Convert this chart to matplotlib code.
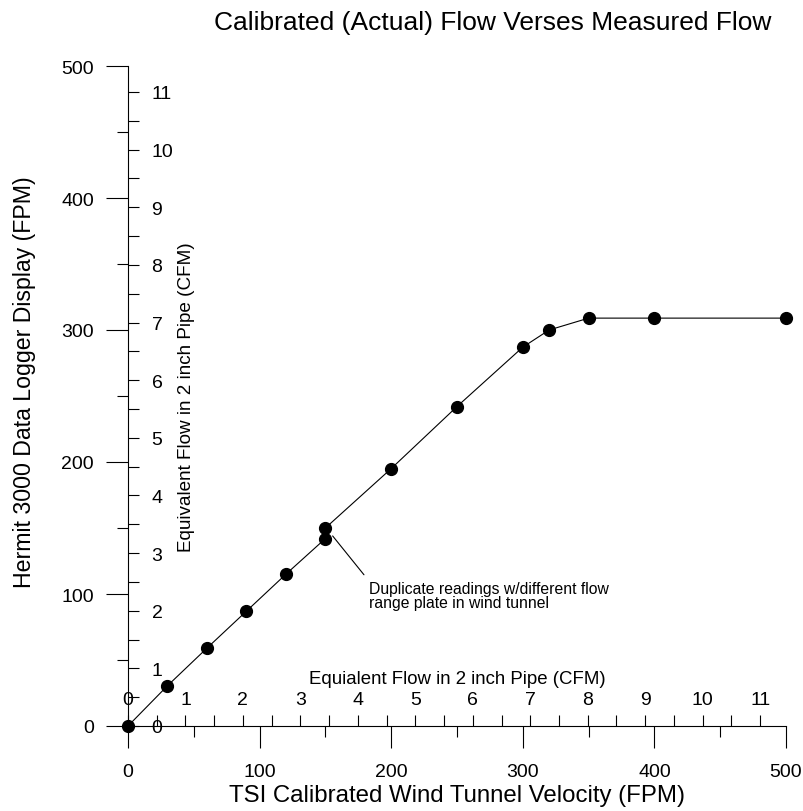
import numpy as np
import matplotlib
matplotlib.use('Agg')
import matplotlib.pyplot as plt
from matplotlib.ticker import MultipleLocator, FixedLocator

plt.rcParams['font.family'] = ['Liberation Sans', 'DejaVu Sans']

# TSI wind tunnel velocity (FPM) vs Hermit 3000 display (FPM)
tsi_fpm = [0, 30, 60, 90, 120, 150, 150, 200, 250, 300, 320, 350, 400, 500]
hermit_fpm = [0, 30.5, 59, 87, 115, 142, 150, 195, 242, 287, 300, 309, 309, 309]

# equivalent flow tick values (CFM)
cfm_major = list(range(0, 12))
cfm_minor = [i + 0.5 for i in range(0, 11)]

# 2 inch pipe cross section (ft^2), CFM = FPM * area
pipe_area = 0.0229

def to_cfm(v):
    return np.asarray(v) * pipe_area

def to_fpm(q):
    return np.asarray(q) / pipe_area

fig = plt.figure(figsize=(8.04, 8.12), dpi=100)
ax = fig.add_axes([128/804, 85/812, 658/804, 660/812])

ax.plot(tsi_fpm, hermit_fpm, color='black', lw=0.8, marker='o', ms=8.5, clip_on=False)

ax.set_xlim(0, 500)
ax.set_ylim(0, 500)
ax.spines['top'].set_visible(False)
ax.spines['right'].set_visible(False)
ax.xaxis.set_major_locator(MultipleLocator(100))
ax.xaxis.set_minor_locator(MultipleLocator(50))
ax.yaxis.set_major_locator(MultipleLocator(100))
ax.yaxis.set_minor_locator(MultipleLocator(50))
ax.tick_params(which='major', length=15.5, width=0.8, direction='out', labelsize=14)
ax.tick_params(axis='x', which='major', pad=11)
ax.tick_params(axis='y', which='major', pad=9)
ax.tick_params(which='minor', length=8, width=0.8, direction='out')

ax.set_xlabel('TSI Calibrated Wind Tunnel Velocity (FPM)', fontsize=17.3)
ax.xaxis.set_label_coords(0.5, -0.088)
ax.set_ylabel('Hermit 3000 Data Logger Display (FPM)', fontsize=16.7)
ax.yaxis.set_label_coords(-0.140, 0.522)

# equivalent flow axes sharing the same spines
secx = ax.secondary_xaxis(0.0, functions=(to_cfm, to_fpm))
secx.set_alignment('top')
secx.spines['top'].set_visible(False)
secx.xaxis.set_major_locator(FixedLocator(cfm_major))
secx.xaxis.set_minor_locator(FixedLocator(cfm_minor))
secx.tick_params(which='both', direction='out', length=8, width=0.8)
secx.tick_params(which='major', labelsize=14, pad=5)
secx.set_xlabel('Equialent Flow in 2 inch Pipe (CFM)', fontsize=13.4, labelpad=6)

secy = ax.secondary_yaxis(0.0, functions=(to_cfm, to_fpm))
secy.set_alignment('right')
secy.spines['right'].set_visible(False)
secy.yaxis.set_major_locator(FixedLocator(cfm_major))
secy.yaxis.set_minor_locator(FixedLocator(cfm_minor))
secy.tick_params(which='both', direction='out', length=8, width=0.8)
secy.tick_params(which='major', labelsize=14, pad=9)
secy.set_ylabel('Equivalent Flow in 2 inch Pipe (CFM)', fontsize=13.6, labelpad=3)

ax.annotate('Duplicate readings w/different flow\nrange plate in wind tunnel',
            xy=(155.5, 144), xytext=(183, 110), fontsize=11.3, va='top', ha='left',
            linespacing=0.95,
            arrowprops=dict(arrowstyle='-', color='black', lw=0.8, relpos=(0, 1),
                            shrinkA=3, shrinkB=0))

fig.text(493/804, 1 - 30/812, 'Calibrated (Actual) Flow Verses Measured Flow',
         ha='center', va='baseline', fontsize=19)

fig.savefig('out.png', dpi=100)
